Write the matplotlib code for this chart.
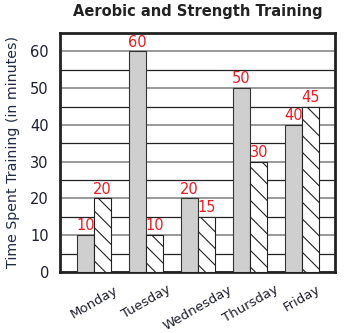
import numpy as np
import matplotlib
matplotlib.use("Agg")
import matplotlib.pyplot as plt
from matplotlib.ticker import MultipleLocator

days = ["Monday", "Tuesday", "Wednesday", "Thursday", "Friday"]
aerobic = [10, 60, 20, 50, 40]
strength = [20, 10, 15, 30, 45]

plt.rcParams['font.family'] = 'DejaVu Sans'
plt.rcParams['hatch.linewidth'] = 0.8

fig = plt.figure(figsize=(3.56, 3.33), dpi=100)
ax = fig.add_axes([60/356, 1-272/333, 275/356, 239/333])

x = np.arange(len(days))
w = 0.33
ax.bar(x - w/2, aerobic, w, color='#cfcfd0', edgecolor='#333333', linewidth=0.8, zorder=3)
ax.bar(x + w/2, strength, w, color='white', edgecolor='#222222', linewidth=0.8,
       hatch='\\\\', zorder=3)

for xi, v in zip(x, aerobic):
    ax.text(xi - w/2, v + 0.5, str(v), color='#ee1c25', ha='center', va='bottom', fontsize=10.5, zorder=4)
for xi, v in zip(x, strength):
    ax.text(xi + w/2, v + 0.5, str(v), color='#ee1c25', ha='center', va='bottom', fontsize=10.5, zorder=4)

ax.set_xlim(-0.65, 4.63)
ax.set_ylim(0, 65)
ax.yaxis.set_major_locator(MultipleLocator(10))
ax.yaxis.set_minor_locator(MultipleLocator(5))
ax.grid(which='major', axis='y', color='#888888', linewidth=1.2, zorder=0)
ax.grid(which='minor', axis='y', color='#222222', linewidth=0.9, zorder=0)
ax.tick_params(axis='both', which='both', length=0, labelsize=10.5, colors='#1e1e2e')
ax.tick_params(axis='y', pad=8)
ax.tick_params(axis='x', pad=8)
ax.set_xticks(x)
ax.set_xticklabels(days, rotation=30, ha='center', fontsize=9.5)
for s in ax.spines.values():
    s.set_linewidth(2)
    s.set_color('#222222')

ax.set_ylabel("Time Spent Training (in minutes)", fontsize=10.2, color='#1f2a44', labelpad=7)
ax.set_title("Aerobic and Strength Training", fontsize=10.5, fontweight='bold', color='#222222', pad=12)

plt.savefig("out.png", dpi=100)
